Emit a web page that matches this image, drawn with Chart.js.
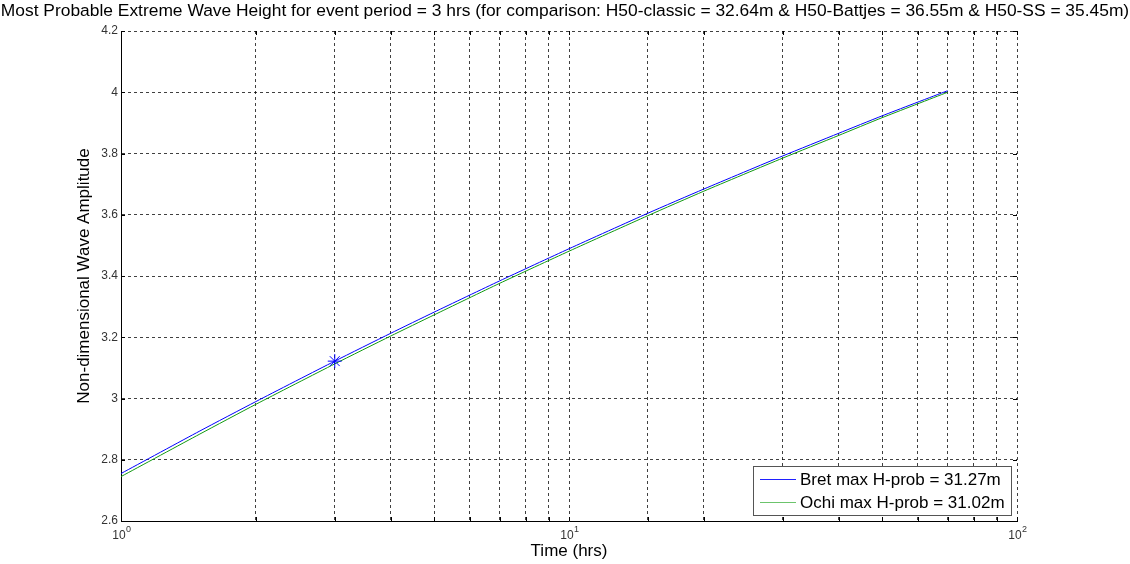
<!DOCTYPE html>
<html>
<head>
<meta charset="utf-8">
<script src="https://cdn.jsdelivr.net/npm/chart.js@4.4.0/dist/chart.umd.min.js"></script>
<style>
  html, body { margin: 0; padding: 0; background: #fff; }
  #wrap { width: 1130px; height: 564px; }
</style>
</head>
<body>
<div id="wrap"><canvas id="waveChart" width="1130" height="564"></canvas></div>
<script>
// ---------------- DATA ----------------
const titleText = 'Most Probable Extreme Wave Height for event period = 3 hrs (for comparison: H50-classic = 32.64m & H50-Battjes = 36.55m & H50-SS = 35.45m)';
const xTitle = 'Time (hrs)';
const yTitle = 'Non-dimensional Wave Amplitude';

const times    = [1, 1.5, 2, 3, 4, 5, 7, 10, 15, 20, 30, 40, 50, 70];
const bretAmp  = [2.755, 2.894, 2.990, 3.122, 3.213, 3.282, 3.384, 3.489, 3.605, 3.684, 3.792, 3.866, 3.923, 4.005];
const ochiAmp  = [2.745, 2.884, 2.981, 3.113, 3.204, 3.273, 3.376, 3.481, 3.597, 3.677, 3.785, 3.859, 3.917, 4.000];

const eventTime = [3];
const eventAmp  = [3.122];

const seriesLabels = ['Bret max H-prob = 31.27m', 'Ochi max H-prob = 31.02m'];
const yTicks = [2.6, 2.8, 3, 3.2, 3.4, 3.6, 3.8, 4, 4.2];
const xMajor = [1, 10, 100];
const xExp   = ['0', '1', '2'];

const toPoints = (xs, ys) => xs.map((x, i) => ({ x, y: ys[i] }));

// ---------------- DECORATIONS ----------------
const FONT = '"Liberation Sans", Arial, sans-serif';

const matlabDecor = {
    id: 'matlabDecor',
    afterDraw(chart) {
        const ctx = chart.ctx;
        const area = chart.chartArea;
        const xs = chart.scales.x;
        const ys = chart.scales.y;

        ctx.save();
        ctx.fillStyle = '#000';

        // title
        ctx.font = `17.4px ${FONT}`;
        ctx.textAlign = 'center';
        ctx.textBaseline = 'middle';
        ctx.fillText(titleText, 565, 11);

        // axis titles
        ctx.font = `17px ${FONT}`;
        ctx.fillText(xTitle, (area.left + area.right) / 2, 551);
        ctx.save();
        ctx.translate(84, (area.top + area.bottom) / 2);
        ctx.rotate(-Math.PI / 2);
        ctx.fillText(yTitle, 0, 0);
        ctx.restore();

        // y tick labels
        ctx.font = `12px ${FONT}`;
        ctx.fillStyle = '#333';
        ctx.textAlign = 'right';
        yTicks.forEach(v => {
            ctx.fillText(String(v), area.left - 3, ys.getPixelForValue(v));
        });

        // x tick labels 10^n
        xMajor.forEach((v, i) => {
            const px = xs.getPixelForValue(v);
            ctx.font = `12px ${FONT}`;
            ctx.textAlign = 'center';
            ctx.fillText('10', px - 2, area.bottom + 15);
            ctx.font = `9px ${FONT}`;
            ctx.textAlign = 'left';
            ctx.fillText(xExp[i], px + 5, area.bottom + 9);
        });

        // inward tick marks
        ctx.strokeStyle = '#000';
        ctx.lineWidth = 1;
        ctx.beginPath();
        xs.ticks.forEach(t => {
            const px = Math.round(xs.getPixelForValue(t.value)) + 0.5;
            ctx.moveTo(px, area.bottom);
            ctx.lineTo(px, area.bottom - 4);
            ctx.moveTo(px, area.top);
            ctx.lineTo(px, area.top + 4);
        });
        yTicks.forEach(v => {
            const py = Math.round(ys.getPixelForValue(v)) + 0.5;
            ctx.moveTo(area.left, py);
            ctx.lineTo(area.left + 4, py);
            ctx.moveTo(area.right, py);
            ctx.lineTo(area.right - 4, py);
        });
        ctx.stroke();

        // legend box inside the plot
        const lx = 753, ly = 466, lw = 258, lh = 49;
        ctx.fillStyle = '#fff';
        ctx.fillRect(lx, ly, lw, lh);
        ctx.strokeStyle = '#555';
        ctx.strokeRect(lx + 0.5, ly + 0.5, lw, lh);
        ctx.font = `17px ${FONT}`;
        ctx.textAlign = 'left';
        ctx.textBaseline = 'middle';
        [0, 1].forEach(i => {
            const ds = chart.data.datasets[i];
            const rowY = ly + 13 + i * 23;
            ctx.strokeStyle = i === 0 ? '#2020ff' : '#6cc46c';
            ctx.beginPath();
            ctx.moveTo(lx + 7, rowY + 0.5);
            ctx.lineTo(lx + 43, rowY + 0.5);
            ctx.stroke();
            ctx.fillStyle = '#000';
            ctx.fillText(ds.label, lx + 47, rowY + 1);
        });

        ctx.restore();
    }
};

// ---------------- CHART ----------------
const gridStyle = {
    color: 'rgba(0,0,0,0.75)',
    lineWidth: 1,
    drawTicks: false
};

new Chart(document.getElementById('waveChart').getContext('2d'), {
    type: 'scatter',
    data: {
        datasets: [
            {
                label: seriesLabels[0],
                data: toPoints(times, bretAmp),
                showLine: true,
                borderColor: '#0000ff',
                borderWidth: 1,
                pointRadius: 0,
                tension: 0.2,
                order: 1
            },
            {
                label: seriesLabels[1],
                data: toPoints(times, ochiAmp),
                showLine: true,
                borderColor: '#119911',
                borderWidth: 1,
                pointRadius: 0,
                tension: 0.2,
                order: 2
            },
            {
                label: 'event',
                data: toPoints(eventTime, eventAmp),
                showLine: false,
                pointStyle: 'star',
                pointRadius: 7,
                borderColor: '#0000ff',
                backgroundColor: '#0000ff',
                borderWidth: 1,
                order: 0
            }
        ]
    },
    options: {
        responsive: false,
        animation: false,
        layout: { padding: { left: 121, right: 113, top: 31, bottom: 43 } },
        plugins: {
            legend: { display: false },
            title: { display: false },
            tooltip: { enabled: false }
        },
        scales: {
            x: {
                type: 'logarithmic',
                min: 1,
                max: 100,
                ticks: { display: false },
                grid: { ...gridStyle },
                border: { display: true, color: '#000', width: 1, dash: [3, 3] }
            },
            y: {
                type: 'linear',
                min: 2.6,
                max: 4.2,
                ticks: { display: false, stepSize: 0.2 },
                grid: { ...gridStyle },
                border: { display: true, color: '#000', width: 1, dash: [3, 3] }
            }
        }
    },
    plugins: [matlabDecor]
});
</script>
</body>
</html>
